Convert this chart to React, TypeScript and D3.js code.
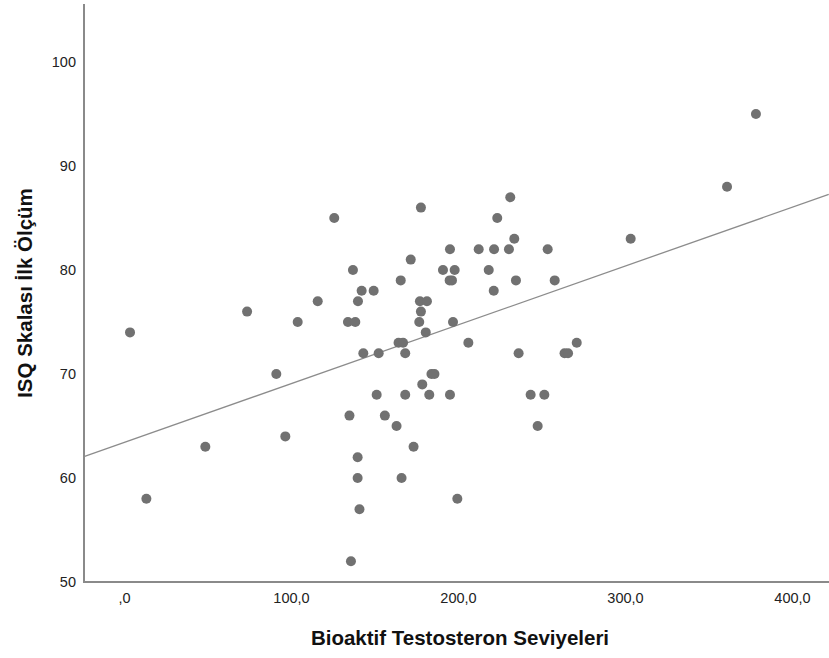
import React, { useRef, useEffect } from 'react';
import { select, scaleLinear, axisBottom, axisLeft, line } from 'd3';

// Bioaktif testosteron (x) vs ISQ ilk ölçüm (y)
const testosterone = [
    3.6, 13.4, 48.7, 73.7, 91.2, 96.6, 104.0, 116.0, 125.9, 134.1,
    138.5, 137.1, 135.0, 135.9, 140.1, 142.3, 143.3, 139.9, 139.9, 141.0,
    149.5, 152.5, 151.3, 156.2, 163.2, 165.7, 164.4, 167.1, 166.2, 168.4,
    168.4, 171.7, 173.4, 177.8, 176.8, 177.8, 177.2, 181.4, 180.7, 178.6,
    184.1, 185.9, 182.8, 191.0, 195.2, 195.0, 196.4, 197.0, 198.0, 195.2,
    199.6, 206.2, 212.4, 218.4, 221.6, 223.5, 221.4, 231.3, 230.5, 233.7,
    234.7, 236.3, 243.5, 251.7, 247.7, 253.7, 257.9, 263.8, 265.9, 271.1,
    303.4, 361.1, 378.4
];
const isqScore = [
    74, 58, 63, 76, 70, 64, 75, 77, 85, 75,
    75, 80, 66, 52, 77, 78, 72, 62, 60, 57,
    78, 72, 68, 66, 65, 79, 73, 73, 60, 72,
    68, 81, 63, 86, 75, 76, 77, 77, 74, 69,
    70, 70, 68, 80, 82, 79, 79, 75, 80, 68,
    58, 73, 82, 80, 82, 85, 78, 87, 82, 83,
    79, 72, 68, 68, 65, 82, 79, 72, 72, 73,
    83, 88, 95
];

const xTicks = [0, 100, 200, 300, 400];
const xTickLabels = [',0', '100,0', '200,0', '300,0', '400,0'];
const yTicks = [50, 60, 70, 80, 90, 100];

// fit line
const fitIntercept = 63.41;
const fitSlope = 0.05654;
const fitRange = [-24, 422];

const W = 829;
const H = 658;

export default function App() {
    const ref = useRef<SVGSVGElement | null>(null);

    useEffect(() => {
        if (!ref.current) return;
        const svg = select(ref.current);
        svg.selectAll('*').remove();

        const x = scaleLinear().domain([0, 400]).range([124, 792]);
        const y = scaleLinear().domain([50, 100]).range([582, 62]);
        const x0 = 84;
        const y0 = 582;

        const axisColor = '#8a8a8a';
        const font = "'Liberation Sans', Arial, sans-serif";

        // x axis
        svg.append('g')
            .attr('transform', `translate(0,${y0})`)
            .call(axisBottom(x).tickValues(xTicks).tickSize(0).tickPadding(11)
                .tickFormat((d, i) => xTickLabels[i]))
            .call(g => g.select('.domain').remove())
            .call(g => g.selectAll('text')
                .style('font-family', font).style('font-size', '14.5px').style('fill', '#222'));

        // y axis
        svg.append('g')
            .attr('transform', `translate(${x0},0)`)
            .call(axisLeft(y).tickValues(yTicks).tickSize(0).tickPadding(8))
            .call(g => g.select('.domain').remove())
            .call(g => g.selectAll('text')
                .style('font-family', font).style('font-size', '14.5px').style('fill', '#222'));

        svg.append('line')
            .attr('x1', x0).attr('x2', W).attr('y1', y0).attr('y2', y0)
            .attr('stroke', axisColor).attr('stroke-width', 2);
        svg.append('line')
            .attr('x1', x0).attr('x2', x0).attr('y1', 4).attr('y2', y0 + 1)
            .attr('stroke', axisColor).attr('stroke-width', 2);

        // fit line
        const fitData = fitRange.map(v => [v, fitIntercept + fitSlope * v] as [number, number]);
        svg.append('path')
            .datum(fitData)
            .attr('fill', 'none')
            .attr('stroke', '#8c8c8c')
            .attr('stroke-width', 1.3)
            .attr('d', line<[number, number]>().x(d => x(d[0])).y(d => y(d[1])));

        // points
        svg.append('g')
            .selectAll('circle')
            .data(testosterone.map((t, i) => ({ t, s: isqScore[i] })))
            .join('circle')
            .attr('cx', d => x(d.t))
            .attr('cy', d => y(d.s))
            .attr('r', 5)
            .attr('fill', '#717171');

        // titles
        svg.append('text')
            .attr('x', 460).attr('y', 645)
            .attr('text-anchor', 'middle')
            .style('font-family', font).style('font-size', '20.5px').style('font-weight', 'bold')
            .style('fill', '#111')
            .text('Bioaktif Testosteron Seviyeleri');

        svg.append('text')
            .attr('transform', 'translate(32,293) rotate(-90)')
            .attr('text-anchor', 'middle')
            .style('font-family', font).style('font-size', '20.5px').style('font-weight', 'bold')
            .style('fill', '#111')
            .text('ISQ Skalası İlk Ölçüm');
    }, []);

    return (
        <svg ref={ref} width={W} height={H}
            style={{ position: 'absolute', left: 0, top: 0, background: '#fff' }} />
    );
}
